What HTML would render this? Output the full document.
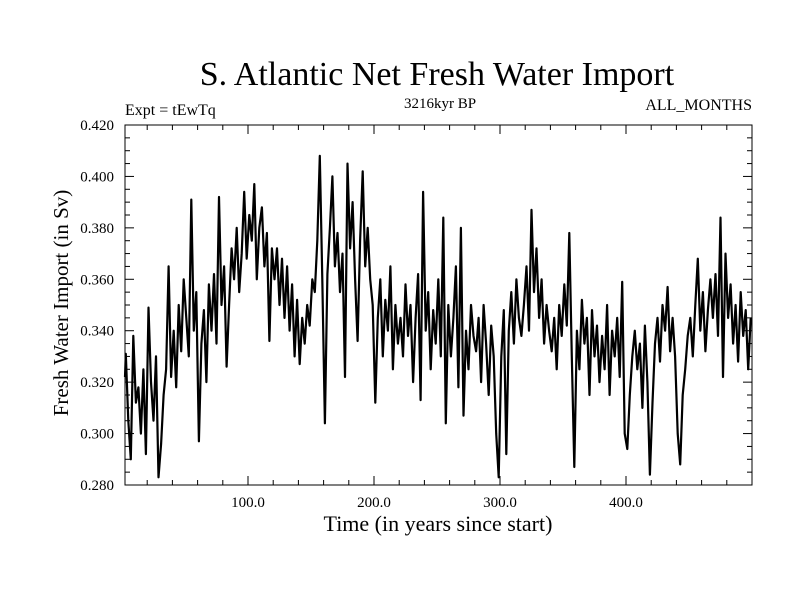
<!DOCTYPE html>
<html><head><meta charset="utf-8"><style>
body{margin:0;background:#fff;width:800px;height:600px;overflow:hidden}
text{font-family:"Liberation Serif",serif;fill:#000}
</style></head><body>
<svg id="chart" width="800" height="600" xmlns="http://www.w3.org/2000/svg">
<text x="437" y="85" font-size="34" text-anchor="middle">S. Atlantic Net Fresh Water Import</text>
<text x="125" y="115" font-size="16">Expt = tEwTq</text>
<text x="440" y="108" font-size="15" text-anchor="middle">3216kyr BP</text>
<text x="752" y="110" font-size="16" text-anchor="end">ALL_MONTHS</text>
<text x="438" y="531" font-size="22" text-anchor="middle">Time (in years since start)</text>
<text x="0" y="0" font-size="21" text-anchor="middle" transform="translate(68,303) rotate(-90)">Fresh Water Import (in Sv)</text>
<g id="axes"></g>
<path id="series" fill="none" stroke="#000" stroke-width="2.2" stroke-linejoin="round"/>
<rect x="125" y="125" width="627" height="360" fill="none" stroke="#000" stroke-width="1"/>
</svg>
<script>
const xTicks=[100,200,300,400];
const xTickLabels=["100.0","200.0","300.0","400.0"];
const yTicks=[0.280,0.300,0.320,0.340,0.360,0.380,0.400,0.420];
const yTickLabels=["0.280","0.300","0.320","0.340","0.360","0.380","0.400","0.420"];
const startYear=1;
const yearStep=2;
const importValues=[
322,331,305,290,338,312,318,300,325,292,
349,320,305,330,283,296,315,325,365,322,
340,318,350,332,360,345,330,391,340,355,
297,335,348,320,358,340,362,335,392,350,
365,326,350,372,360,380,355,370,394,368,
385,375,397,360,380,388,365,378,336,372,
360,372,350,368,345,365,340,358,330,352,
327,345,335,350,342,360,355,375,408,360,
304,362,380,400,365,378,355,370,322,405,
372,390,360,336,375,402,365,380,360,350,
312,345,360,330,352,340,365,325,350,335,
345,330,358,338,350,320,345,362,313,394,
340,355,325,348,335,360,330,384,304,350,
330,345,365,318,380,307,340,325,350,338,
332,345,320,350,335,315,342,330,300,283,
330,348,292,340,355,335,360,345,338,350,
365,340,387,355,372,345,360,335,350,340,
332,345,325,350,338,358,342,378,330,287,
340,325,352,335,345,315,348,330,342,320,
338,325,350,315,340,330,345,322,359,300,
294,315,330,340,325,335,310,342,320,284,
312,335,345,328,350,340,357,332,345,330,
300,288,315,325,338,345,330,350,368,340,
355,332,348,360,345,362,338,384,322,370,
345,358,335,350,328,355,338,348,325,345];
const L=125,R=752,T=125,B=485;
const xs=y=>122+1.26*y;
const ys=v=>B-(v-0.280)/(0.140)*(B-T);
const NS="http://www.w3.org/2000/svg";
const ax=document.getElementById('axes');
function line(x1,y1,x2,y2,name){const l=document.createElementNS(NS,'line');
l.setAttribute('x1',x1);l.setAttribute('y1',y1);l.setAttribute('x2',x2);l.setAttribute('y2',y2);
l.setAttribute('stroke','#000');l.setAttribute('stroke-width','1');


ax.appendChild(l);}
function txt(x,y,s,anchor,name){const t=document.createElementNS(NS,'text');
t.setAttribute('x',x);t.setAttribute('y',y);t.setAttribute('font-size','15');t.setAttribute('text-anchor',anchor);t.textContent=s;


ax.appendChild(t);}
for(let yr=20;yr<500;yr+=20){const x=xs(yr);if(x<=L||x>=R)continue;const len=yr%100===0?9:5;
line(x,B,x,B-len,'x-tick');line(x,T,x,T+len,'x-tick-top');}
xTicks.forEach((v,i)=>txt(xs(v),507,xTickLabels[i],'middle','x-tick-label'));
for(let k=0;k<=28;k++){const v=0.280+k*0.005;const y=ys(v);const len=k%4===0?9:5;
line(L,y,L+len,y,'y-tick');line(R,y,R-len,y,'y-tick-right');}
yTicks.forEach((v,i)=>txt(114,ys(v)+5,yTickLabels[i],'end','y-tick-label'));
let d='';
importValues.forEach((v,i)=>{let x=xs(startYear+i*yearStep);x=Math.max(L,Math.min(R,x));d+=(i?'L':'M')+x.toFixed(1)+','+ys(v/1000).toFixed(1);});
document.getElementById('series').setAttribute('d',d);
</script>
</body></html>
